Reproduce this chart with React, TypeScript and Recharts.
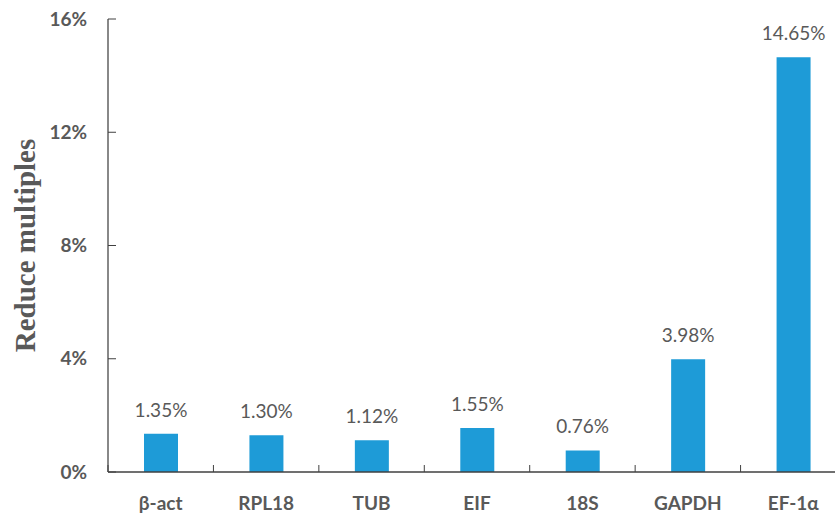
import { Bar, BarChart, LabelList, XAxis, YAxis } from 'recharts'

const genes = ['β-act', 'RPL18', 'TUB', 'EIF', '18S', 'GAPDH', 'EF-1α']
const reduction = [1.35, 1.3, 1.12, 1.55, 0.76, 3.98, 14.65]
const yTicks = [0, 4, 8, 12, 16]

const data = genes.map((name, i) => ({ name, value: reduction[i] }))

const textGray = '#595959'
const axisGray = '#404040'
const barBlue = '#1e9bd7'
const font = 'Lato, "Open Sans", sans-serif'

// category label at the centre, small upward tick at the left edge of each band
function GeneTick(props: any) {
  const { x, y, payload } = props
  const left = x - (payload.offset ?? 0)
  return (
    <g>
      <line x1={left} y1={y} x2={left} y2={y - 7} stroke={axisGray} strokeWidth={1} />
      <text
        x={x}
        y={y + 30}
        textAnchor="middle"
        dominantBaseline="central"
        fontFamily={font}
        fontWeight={700}
        fontSize={19}
        fill={textGray}
      >
        {payload.value}
      </text>
    </g>
  )
}

function AxisTitle(props: any) {
  const { viewBox } = props
  const cx = 25
  const cy = viewBox.y + viewBox.height / 2
  return (
    <text
      x={cx}
      y={cy}
      transform={`rotate(-90, ${cx}, ${cy})`}
      textAnchor="middle"
      dominantBaseline="central"
      fontFamily='"Liberation Serif", "Times New Roman", serif'
      fontWeight={700}
      fontSize={29}
      fill={textGray}
    >
      Reduce multiples
    </text>
  )
}

export default function App() {
  return (
    <div
      style={{
        position: 'absolute',
        left: 0,
        top: 0,
        width: 835,
        height: 514,
        overflow: 'hidden',
        background: '#fff',
      }}
    >
      <BarChart
        width={850}
        height={514}
        data={data}
        margin={{ top: 19, right: 4, bottom: 0, left: 0 }}
      >
        <XAxis
          dataKey="name"
          height={42}
          interval={0}
          tickSize={0}
          tickMargin={0}
          tickLine={false}
          axisLine={{ stroke: axisGray, strokeWidth: 1.5 }}
          tick={<GeneTick />}
        />
        <YAxis
          width={108}
          domain={[0, 16]}
          ticks={yTicks}
          tickFormatter={(v: number) => `${v}%`}
          tickSize={-8}
          tickMargin={29}
          tickLine={{ stroke: axisGray }}
          axisLine={{ stroke: '#606060', strokeWidth: 1.5 }}
          tick={{ fontFamily: font, fontWeight: 700, fontSize: 19, fill: textGray }}
          label={{ content: <AxisTitle /> }}
        />
        <Bar dataKey="value" fill={barBlue} barSize={34} isAnimationActive={false}>
          <LabelList
            dataKey="value"
            position="top"
            offset={17}
            formatter={(v: any) => `${Number(v).toFixed(2)}%`}
            style={{ fontFamily: font, fontSize: 19, fill: textGray }}
          />
        </Bar>
      </BarChart>
    </div>
  )
}
